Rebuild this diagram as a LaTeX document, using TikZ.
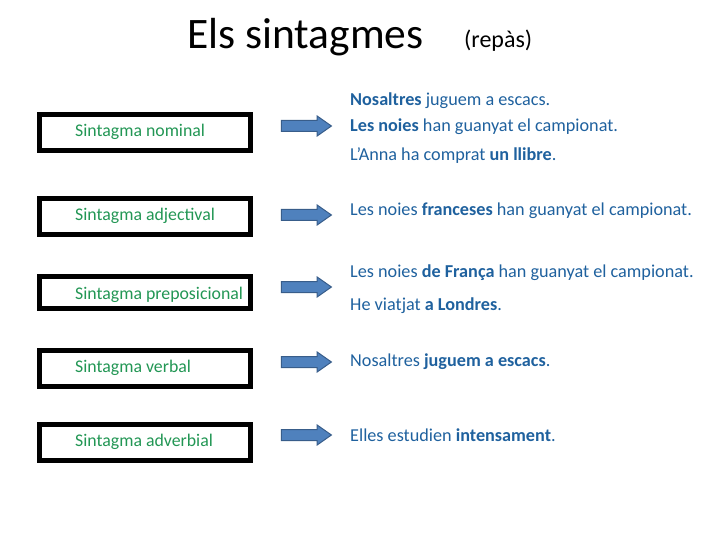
\documentclass[tikz,border=0pt]{standalone}
\usepackage{fontspec}
\setmainfont{Carlito}
\usetikzlibrary{shapes.arrows}
\definecolor{lblgreen}{RGB}{34,150,84}
\definecolor{exblue}{RGB}{31,97,158}
\definecolor{arrfill}{RGB}{79,129,189}
\definecolor{arrline}{RGB}{56,93,138}
\tikzset{
  sbox/.style={draw=black, line width=5pt, minimum width=211pt, minimum height=36pt, inner sep=0pt},
  lbl/.style={anchor=west, inner sep=0pt, text=lblgreen, font=\fontsize{17.8}{20}\selectfont},
  ex/.style={anchor=west, inner sep=0pt, text=exblue, font=\fontsize{18.2}{21}\selectfont},
  blockarrow/.style={single arrow, draw=arrline, fill=arrfill, line width=1pt,
    minimum height=50pt, inner xsep=0pt, inner ysep=5pt, single arrow head extend=4.5pt,
    single arrow tip angle=70, anchor=center}
}
\begin{document}
\begin{tikzpicture}[x=1pt,y=-1pt]
\useasboundingbox (0,0) rectangle (720,540);
\node[anchor=base west, inner sep=0pt, font=\fontsize{43.5}{50}\selectfont] (title) at (187,49) {Els sintagmes};
\node[anchor=base west, inner sep=0pt, font=\fontsize{24}{28}\selectfont] (sub) at (464,48) {(repàs)};

\node[sbox] (b1) at (145,132.5) {};
\node[sbox] (b2) at (145,216.5) {};
\node[sbox, minimum height=32pt] (b3) at (145,292.5) {};
\node[sbox] (b4) at (145,368.5) {};
\node[sbox] (b5) at (145,442.5) {};

\node[lbl] (l1) at (75,132) {Sintagma nominal};
\node[lbl] (l2) at (75,216) {Sintagma adjectival};
\node[lbl] (l3) at (75,295) {Sintagma preposicional};
\node[lbl] (l4) at (75,368) {Sintagma verbal};
\node[lbl] (l5) at (75,442) {Sintagma adverbial};

\node[blockarrow] (a1) at (302.5,126) {};
\node[blockarrow] (a2) at (302.5,215) {};
\node[blockarrow] (a3) at (302.5,287) {};
\node[blockarrow] (a4) at (302.5,362) {};
\node[blockarrow] (a5) at (302.5,435) {};

\node[ex] (e1) at (350,101) {\textbf{Nosaltres} juguem a escacs.};
\node[ex] (e2) at (350,127) {\textbf{Les noies} han guanyat el campionat.};
\node[ex] (e3) at (350,156) {L’Anna ha comprat \textbf{un llibre}.};
\node[ex] (e4) at (350,211) {Les noies \textbf{franceses} han guanyat el campionat.};
\node[ex] (e5) at (350,273) {Les noies \textbf{de França} han guanyat el campionat.};
\node[ex] (e6) at (350,306) {He viatjat \textbf{a Londres}.};
\node[ex] (e7) at (350,362) {Nosaltres \textbf{juguem a escacs}.};
\node[ex] (e8) at (350,435) {Elles estudien \textbf{intensament}.};
\end{tikzpicture}
\end{document}
